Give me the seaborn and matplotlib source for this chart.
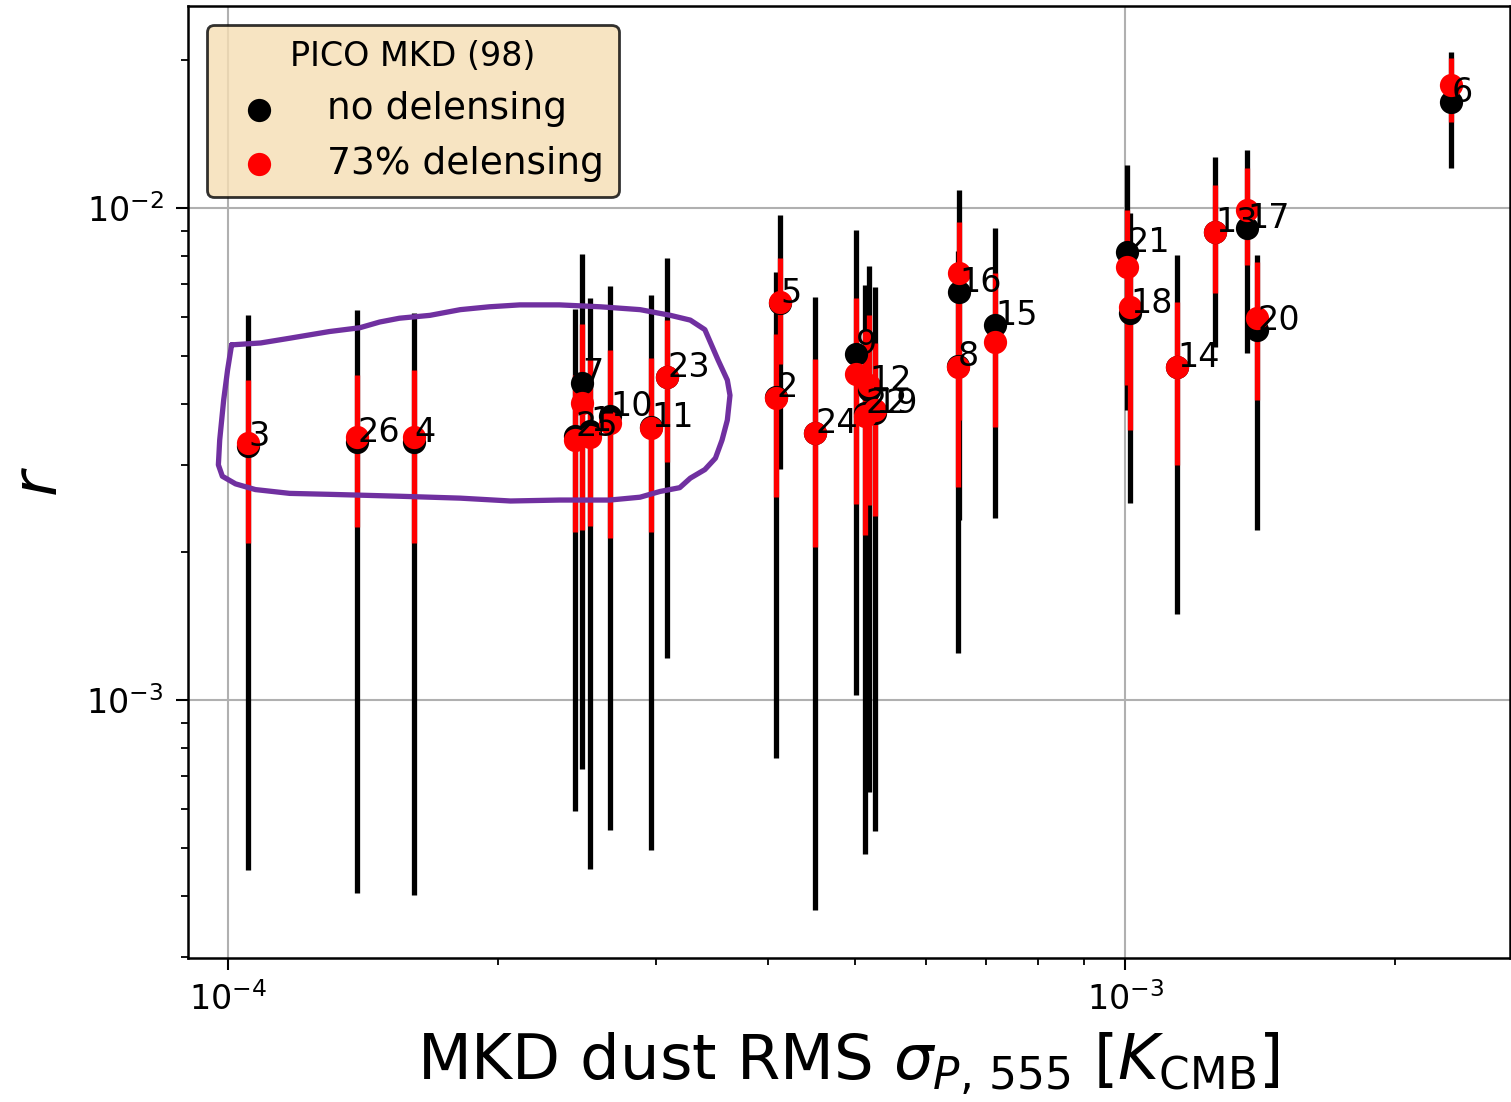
import numpy as np
import pandas as pd
import matplotlib
matplotlib.use("Agg")
import matplotlib.pyplot as plt
import seaborn as sns

# field labels and MKD dust RMS (K_CMB)
field_ids = list(range(1, 27))
sigma_p = [2.533e-4, 4.083e-4, 1.053e-4, 1.612e-4, 4.125e-4, 2.309e-3, 2.481e-4,
           6.514e-4, 5.013e-4, 2.667e-4, 2.962e-4, 5.183e-4, 1.260e-3, 1.143e-3,
           7.163e-4, 6.530e-4, 1.368e-3, 1.013e-3, 5.264e-4, 1.403e-3, 1.005e-3,
           5.130e-4, 3.086e-4, 4.512e-4, 2.436e-4, 1.393e-4]

# r in units of 1e-3: no delensing (value, upper, lower)
r_nodl = [3.52, 4.13, 3.28, 3.345, 6.41, 16.42, 4.41, 4.77, 5.05, 3.78, 3.59, 4.27, 8.94,
          4.75, 5.78, 6.75, 9.11, 6.12, 3.83, 5.65, 8.14, 3.83, 4.53, 3.49, 3.44, 3.345]
r_nodl_hi = [6.56, 7.41, 6.06, 6.12, 9.68, 20.75, 8.06, 8.2, 9.02, 6.94, 6.66, 7.62, 12.7,
             8.03, 9.11, 10.88, 13.12, 9.77, 6.91, 8.03, 12.23, 6.97, 7.91, 6.59, 6.23, 6.20]
r_nodl_lo = [0.453, 0.762, 0.451, 0.402, 2.95, 12.06, 0.724, 1.246, 1.024, 0.544, 0.496,
             0.650, 5.22, 1.495, 2.344, 2.32, 5.07, 2.514, 0.542, 2.22, 3.885, 0.486,
             1.217, 0.374, 0.595, 0.405]

# r in units of 1e-3: 73% delensing (value, upper, lower)
r_dl = [3.42, 4.11, 3.33, 3.42, 6.44, 17.78, 4.015, 4.75, 4.60, 3.66, 3.57, 4.37, 8.94,
        4.75, 5.34, 7.38, 9.91, 6.29, 3.885, 5.98, 7.59, 3.78, 4.53, 3.49, 3.38, 3.42]
r_dl_hi = [4.96, 5.545, 4.47, 4.69, 7.91, 20.18, 5.81, 6.50, 6.56, 5.15, 4.96, 6.06, 11.14,
           6.44, 7.38, 9.37, 12.06, 8.2, 5.32, 7.77, 9.91, 5.65, 5.92, 4.93, 4.58, 4.58]
r_dl_lo = [2.26, 2.586, 2.085, 2.085, 4.82, 14.96, 2.22, 2.71, 2.50, 2.135, 2.195, 2.49, 6.72,
           3.00, 3.59, 3.71, 7.66, 3.54, 2.366, 4.07, 4.37, 2.165, 3.05, 2.05, 2.195, 2.25]

# hand-drawn loop (axes fraction)
loop_x = [0.033, 0.055, 0.077, 0.107, 0.130, 0.145, 0.160, 0.183, 0.206, 0.228, 0.251,
          0.281, 0.312, 0.342, 0.365, 0.380, 0.391, 0.396, 0.401, 0.408, 0.410, 0.408,
          0.404, 0.399, 0.391, 0.380, 0.372, 0.357, 0.342, 0.319, 0.281, 0.244, 0.206,
          0.160, 0.107, 0.077, 0.051, 0.036, 0.026, 0.023, 0.024, 0.027, 0.030, 0.033]
loop_y = [0.644, 0.646, 0.651, 0.658, 0.662, 0.668, 0.672, 0.675, 0.681, 0.684, 0.686,
          0.686, 0.684, 0.681, 0.675, 0.670, 0.660, 0.644, 0.628, 0.607, 0.591, 0.565,
          0.544, 0.525, 0.513, 0.504, 0.494, 0.490, 0.484, 0.481, 0.481, 0.480, 0.483,
          0.485, 0.487, 0.488, 0.492, 0.498, 0.506, 0.518, 0.544, 0.586, 0.618, 0.644]

scale = 1e-3
df = pd.DataFrame({
    "id": field_ids,
    "sigma": sigma_p,
    "r_nodl": np.array(r_nodl) * scale,
    "r_nodl_hi": np.array(r_nodl_hi) * scale,
    "r_nodl_lo": np.array(r_nodl_lo) * scale,
    "r_dl": np.array(r_dl) * scale,
    "r_dl_hi": np.array(r_dl_hi) * scale,
    "r_dl_lo": np.array(r_dl_lo) * scale,
})

sns.set_style("ticks", rc={
    "axes.edgecolor": "black",
    "axes.labelcolor": "black",
    "text.color": "black",
    "xtick.color": "black",
    "ytick.color": "black",
    "grid.color": "#b0b0b0",
})

fig = plt.figure(figsize=(15.11, 11.02), dpi=100)
ax = fig.add_axes([0.1244, 0.1307, 0.8749, 0.8639])
ax.set_xscale("log")
ax.set_yscale("log")

ew = 3.8
ax.errorbar(df["sigma"], df["r_nodl"],
            yerr=[df["r_nodl"] - df["r_nodl_lo"], df["r_nodl_hi"] - df["r_nodl"]],
            fmt="none", ecolor="black", elinewidth=ew, capsize=0, zorder=2)
ax.errorbar(df["sigma"], df["r_dl"],
            yerr=[df["r_dl"] - df["r_dl_lo"], df["r_dl_hi"] - df["r_dl"]],
            fmt="none", ecolor="red", elinewidth=ew, capsize=0, zorder=2.1)

sns.scatterplot(data=df, x="sigma", y="r_nodl", color="black", s=280, linewidth=0,
                label="no delensing", zorder=3, ax=ax)
sns.scatterplot(data=df, x="sigma", y="r_dl", color="red", s=280, linewidth=0,
                label="73% delensing", zorder=3.1, ax=ax)

for _, row in df.iterrows():
    ax.text(row["sigma"], row["r_nodl"], str(int(row["id"])), fontsize=24,
            color="black", zorder=5)

ax.plot(loop_x, loop_y, color="#7030A0", lw=3.8, transform=ax.transAxes,
        solid_capstyle="round", solid_joinstyle="round", zorder=6)

ax.set_xlim(9.02e-5, 2.685e-3)
ax.set_ylim(2.99e-4, 2.576e-2)
ax.grid(True, which="major", color="#b0b0b0", lw=1.5)
for s in ax.spines.values():
    s.set_linewidth(1.8)
    s.set_visible(True)
ax.tick_params(which="major", length=8.5, width=1.5, labelsize=24, pad=9,
               labelcolor="black")
ax.tick_params(which="minor", length=5, width=1.3)

ax.set_xlabel(r"MKD dust RMS $\sigma_{P,\,555}$ [$K_{\mathrm{CMB}}$]", fontsize=45,
              labelpad=10)
ax.set_ylabel(r"$r$", fontsize=45, labelpad=12)

leg = ax.legend(title="PICO MKD (98)", loc="upper left", fontsize=27, title_fontsize=24,
                frameon=True, fancybox=True)
frame = leg.get_frame()
frame.set_facecolor((245 / 255, 222 / 255, 179 / 255, 0.5))
frame.set_edgecolor((0, 0, 0, 0.55))
frame.set_linewidth(2)

fig.savefig("out.png", dpi=100)
